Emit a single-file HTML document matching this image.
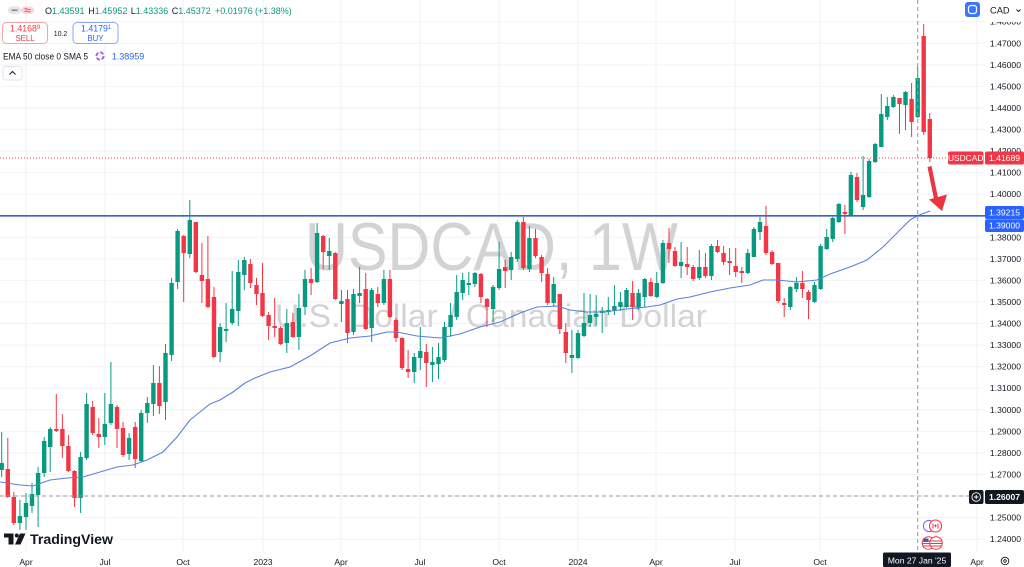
<!DOCTYPE html>
<html><head><meta charset="utf-8">
<style>
html,body{margin:0;padding:0;background:#fff;width:1024px;height:567px;overflow:hidden}
svg{display:block;font-family:"Liberation Sans",Arial,sans-serif}
</style></head>
<body>
<svg width="1024" height="567" viewBox="0 0 1024 567" xmlns="http://www.w3.org/2000/svg">
<rect width="1024" height="567" fill="#ffffff"/>
<!-- grid -->
<g stroke="#f0f2f5" stroke-width="1">
<path d="M0 21.7H985M0 43.3H985M0 64.9H985M0 86.4H985M0 108H985M0 129.5H985M0 151.1H985M0 172.6H985M0 194.2H985M0 215.8H985M0 237.3H985M0 258.9H985M0 280.4H985M0 302H985M0 323.6H985M0 345.1H985M0 366.7H985M0 388.2H985M0 409.8H985M0 431.4H985M0 452.9H985M0 474.5H985M0 496H985M0 517.6H985M0 539.2H985"/>
<path d="M26 0V552M105 0V552M183 0V552M263 0V552M341 0V552M420 0V552M499 0V552M578 0V552M656 0V552M735 0V552M820 0V552M977 0V552"/>
</g>
<!-- watermark -->
<text x="305" y="270" font-size="68" fill="#d3d3d5" textLength="373" lengthAdjust="spacingAndGlyphs">USDCAD, 1W</text>
<text x="275" y="327" font-size="32" fill="#d3d3d5" textLength="432" lengthAdjust="spacingAndGlyphs">U.S. Dollar / Canadian Dollar</text>

<!-- candles green -->
<g stroke="#089981" stroke-width="1" fill="none">
<path d="M1.7 432V477M19.9 500V530M26 493V530M32 483V513M38.1 467V527M44.2 437V477M50.2 427V472M80.6 452V513M86.6 393V460M104.8 393V445M110.9 362V425M129.1 433V460M141.2 410V462M147.3 397V423M153.4 365V416M165.5 344V420M171.6 278V361M177.6 229V289M189.8 200V258M220.1 323V362M226.1 303V342M232.2 271V325M238.3 260V326M244.3 257V290M286.8 309V353M298.9 294V350M305 270V315M317.1 223V283M329.3 238V270M341.4 290V322M353.5 289V335M359.6 267V303M371.7 288V342M383.9 270V305M414.2 353V383M420.3 327V370M432.4 347V382M438.5 343V379M444.5 322V362M450.6 303V337M456.7 275V320M462.7 273V300M468.8 272V295M474.9 272V287M493.1 285V322M499.1 242V290M511.2 252V280M517.3 220V262M529.4 226V272M553.7 277V307M571.9 330V373M578 330V359M584 293V337M590.1 294V327M596.2 295V326M602.2 307V333M608.3 297V315M614.4 285V315M620.4 292V311M626.5 288V308M638.6 289V310M644.7 278V307M656.8 272V298M662.9 240V284M681.1 242V278M699.3 250V280M711.4 244V280M747.8 249V274M753.9 227V257M760 217V240M790.3 286V310M796.4 277V292M814.5 282V303M820.6 244V290M826.7 229V250M832.7 217V242M838.8 203V223M850.9 172V216M863.1 156V210M869.1 159V198M875.2 143V163M881.3 94V147M887.3 97V120M893.4 95V108M905.5 91V130M917.7 67V118"/>
</g>
<path fill="#089981" d="M-0.5 463h4.4V470h-4.4zM17.7 516h4.4V523h-4.4zM23.8 503h4.4V517h-4.4zM29.8 494h4.4V506h-4.4zM35.9 473h4.4V495h-4.4zM42 441h4.4V473h-4.4zM48 429h4.4V447h-4.4zM78.4 457h4.4V498h-4.4zM84.4 404h4.4V458h-4.4zM102.6 424h4.4V437h-4.4zM108.7 404h4.4V423h-4.4zM126.9 438h4.4V454h-4.4zM139 413h4.4V461h-4.4zM145.1 403h4.4V413h-4.4zM151.2 383h4.4V404h-4.4zM163.3 353h4.4V402h-4.4zM169.4 283h4.4V355h-4.4zM175.4 231h4.4V282h-4.4zM187.6 220h4.4V254h-4.4zM217.9 327h4.4V352h-4.4zM223.9 329h4.4V331h-4.4zM230 309h4.4V323h-4.4zM236.1 272h4.4V311h-4.4zM242.1 260h4.4V275h-4.4zM284.6 323h4.4V343h-4.4zM296.7 308h4.4V337h-4.4zM302.8 279h4.4V307h-4.4zM314.9 233h4.4V282h-4.4zM327.1 251h4.4V256h-4.4zM339.2 301h4.4V304h-4.4zM351.3 294h4.4V332h-4.4zM357.4 293h4.4V296h-4.4zM369.5 290h4.4V328h-4.4zM381.7 279h4.4V303h-4.4zM412 357h4.4V372h-4.4zM418.1 351h4.4V358h-4.4zM430.2 362h4.4V365h-4.4zM436.3 357h4.4V364h-4.4zM442.3 327h4.4V360h-4.4zM448.4 315h4.4V327h-4.4zM454.5 292h4.4V317h-4.4zM460.5 280h4.4V293h-4.4zM466.6 283h4.4V285h-4.4zM472.7 273h4.4V284h-4.4zM490.9 287h4.4V309h-4.4zM496.9 269h4.4V288h-4.4zM509 257h4.4V270h-4.4zM515.1 222h4.4V259h-4.4zM527.2 238h4.4V269h-4.4zM551.5 284h4.4V303h-4.4zM569.7 355h4.4V358h-4.4zM575.8 333h4.4V358h-4.4zM581.8 323h4.4V336h-4.4zM587.9 315h4.4V323h-4.4zM594 314h4.4V317h-4.4zM600 311h4.4V313h-4.4zM606.1 310h4.4V312h-4.4zM612.2 306h4.4V311h-4.4zM618.2 302h4.4V307h-4.4zM624.3 290h4.4V307h-4.4zM636.4 293h4.4V308h-4.4zM642.5 279h4.4V297h-4.4zM654.6 283h4.4V297h-4.4zM660.7 243h4.4V283h-4.4zM678.9 262h4.4V266h-4.4zM697.1 267h4.4V278h-4.4zM709.2 246h4.4V276h-4.4zM745.6 253h4.4V273h-4.4zM751.7 229h4.4V257h-4.4zM757.8 222h4.4V232h-4.4zM788.1 287h4.4V307h-4.4zM794.2 283h4.4V289h-4.4zM812.3 285h4.4V302h-4.4zM818.4 246h4.4V289h-4.4zM824.5 237h4.4V249h-4.4zM830.5 218h4.4V239h-4.4zM836.6 204h4.4V222h-4.4zM848.7 175h4.4V215h-4.4zM860.9 195h4.4V207h-4.4zM866.9 161h4.4V197h-4.4zM873 144h4.4V162h-4.4zM879.1 114h4.4V147h-4.4zM885.1 106h4.4V117h-4.4zM891.2 97h4.4V107h-4.4zM903.3 92h4.4V105h-4.4zM915.5 78h4.4V117h-4.4z"/>

<!-- candles red -->
<g stroke="#f23645" stroke-width="1" fill="none">
<path d="M7.8 438V498M13.8 492V525M56.3 394V432M62.4 414V458M68.4 435V472M74.5 470V507M92.7 401V435M98.8 418V448M117 405V448M123 422V457M135.2 422V468M159.4 366V414M183.7 235V302M195.8 222V273M201.9 243V303M207.9 236V308M214 287V358M250.4 259V288M256.5 278V305M262.5 263V317M268.6 312V340M274.7 298V337M280.7 326V345M292.9 313V338M311.1 268V295M323.2 235V269M335.3 252V300M347.5 290V343M365.7 273V330M377.8 287V307M389.9 270V318M396 318V342M402.1 337V370M408.1 350V378M426.3 344V387M480.9 273V303M487 298V327M505.2 260V288M523.4 217V270M535.5 229V258M541.6 255V282M547.6 268V305M559.8 294V334M565.8 323V363M632.6 281V320M650.8 278V297M669 228V263M675 247V267M687.2 247V275M693.2 265V281M705.4 253V278M717.5 240V253M723.6 246V265M729.6 248V275M735.7 248V277M741.8 267V283M766 206V255M772.1 250V265M778.2 263V303M784.2 298V317M802.4 271V298M808.5 290V319M844.9 205V234M857 173V202M899.5 98V134M911.6 83V137M923.7 24V135M929.8 113V162"/>
</g>
<path fill="#f23645" d="M5.6 469h4.4V497h-4.4zM11.6 497h4.4V523h-4.4zM54.1 429h4.4V431h-4.4zM60.2 429h4.4V446h-4.4zM66.2 446h4.4V471h-4.4zM72.3 471h4.4V498h-4.4zM90.5 407h4.4V433h-4.4zM96.6 434h4.4V437h-4.4zM114.8 407h4.4V429h-4.4zM120.8 428h4.4V455h-4.4zM133 427h4.4V459h-4.4zM157.2 383h4.4V406h-4.4zM181.5 236h4.4V253h-4.4zM193.6 222h4.4V272h-4.4zM199.7 275h4.4V281h-4.4zM205.7 279h4.4V307h-4.4zM211.8 297h4.4V357h-4.4zM248.2 264h4.4V283h-4.4zM254.3 285h4.4V294h-4.4zM260.3 293h4.4V316h-4.4zM266.4 315h4.4V326h-4.4zM272.5 326h4.4V328h-4.4zM278.5 328h4.4V344h-4.4zM290.7 322h4.4V337h-4.4zM308.9 279h4.4V283h-4.4zM321 236h4.4V252h-4.4zM333.1 253h4.4V299h-4.4zM345.3 299h4.4V333h-4.4zM363.5 289h4.4V329h-4.4zM375.6 294h4.4V303h-4.4zM387.7 279h4.4V317h-4.4zM393.8 320h4.4V338h-4.4zM399.9 338h4.4V368h-4.4zM405.9 369h4.4V372h-4.4zM424.1 352h4.4V363h-4.4zM478.7 274h4.4V297h-4.4zM484.8 299h4.4V307h-4.4zM503 267h4.4V271h-4.4zM521.2 222h4.4V268h-4.4zM533.3 238h4.4V256h-4.4zM539.4 257h4.4V273h-4.4zM545.4 274h4.4V303h-4.4zM557.6 294h4.4V329h-4.4zM563.6 332h4.4V353h-4.4zM630.4 293h4.4V307h-4.4zM648.6 282h4.4V296h-4.4zM666.8 243h4.4V249h-4.4zM672.8 251h4.4V266h-4.4zM685 264h4.4V267h-4.4zM691 267h4.4V279h-4.4zM703.2 267h4.4V276h-4.4zM715.3 246h4.4V252h-4.4zM721.4 253h4.4V262h-4.4zM727.4 261h4.4V263h-4.4zM733.5 266h4.4V272h-4.4zM739.6 271h4.4V273h-4.4zM763.8 226h4.4V253h-4.4zM769.9 252h4.4V264h-4.4zM776 263h4.4V301h-4.4zM782 303h4.4V305h-4.4zM800.2 283h4.4V289h-4.4zM806.3 292h4.4V300h-4.4zM842.7 212h4.4V214h-4.4zM854.8 177h4.4V200h-4.4zM897.3 98h4.4V104h-4.4zM909.4 99h4.4V122h-4.4zM921.5 36h4.4V132h-4.4zM927.6 119h4.4V158h-4.4z"/>

<!-- EMA -->
<polyline fill="none" stroke="#5a80dd" stroke-width="1.1" points="0,482 20,485 33,486 50,480 67,478 83,477 100,472 117,467 133,465 147,460 163,452 177,437 190,420 200,412 210,404 220,400 233,392 245,383 255,378 270,372 290,367 310,356 330,343 350,338 370,336 387,332 397,332 417,336 440,338 460,334 480,327 500,322 520,313 537,307 557,306 570,310 587,312 603,312 627,309 647,307 660,305 677,299 690,297 710,292 730,288 750,285 763,280 777,280 797,282 817,280 830,274 850,267 867,260 883,247 897,233 910,220 918,215.5 930,211"/>

<!-- horizontal blue line -->
<line x1="0" y1="215.8" x2="985" y2="215.8" stroke="#3862c8" stroke-width="1.6"/>
<!-- price line -->
<line x1="0" y1="158" x2="948" y2="158" stroke="#f23645" stroke-width="1" stroke-dasharray="1 2"/>
<!-- crosshair -->
<line x1="917.7" y1="0" x2="917.7" y2="552" stroke="#9598a1" stroke-width="1" stroke-dasharray="4 3"/>
<line x1="0" y1="496" x2="969" y2="496" stroke="#9598a1" stroke-width="1" stroke-dasharray="4 3"/>

<!-- red arrow -->
<polygon fill="#ef3340" points="927.5,167 931.5,166 938,198 934,199"/>
<polygon fill="#ef3340" points="929,199.5 947,194.5 942,211"/>

<!-- price axis labels -->
<g font-size="8.6" fill="#131722" text-anchor="end">
<text x="1021" y="24.7">1.48000</text>
<text x="1021" y="46.3">1.47000</text>
<text x="1021" y="67.9">1.46000</text>
<text x="1021" y="89.4">1.45000</text>
<text x="1021" y="111">1.44000</text>
<text x="1021" y="132.5">1.43000</text>
<text x="1021" y="154.1">1.42000</text>
<text x="1021" y="175.6">1.41000</text>
<text x="1021" y="197.2">1.40000</text>
<text x="1021" y="240.3">1.38000</text>
<text x="1021" y="261.9">1.37000</text>
<text x="1021" y="283.4">1.36000</text>
<text x="1021" y="305">1.35000</text>
<text x="1021" y="326.6">1.34000</text>
<text x="1021" y="348.1">1.33000</text>
<text x="1021" y="369.7">1.32000</text>
<text x="1021" y="391.2">1.31000</text>
<text x="1021" y="412.8">1.30000</text>
<text x="1021" y="434.4">1.29000</text>
<text x="1021" y="455.9">1.28000</text>
<text x="1021" y="477.5">1.27000</text>
<text x="1021" y="520.6">1.25000</text>
<text x="1021" y="542.2">1.24000</text>
</g>

<!-- price labels -->
<rect x="948" y="151.5" width="35.5" height="13" rx="2" fill="#f23645"/>
<text x="965.7" y="161.2" font-size="8.4" fill="#fff" text-anchor="middle">USDCAD</text>
<rect x="985" y="151.5" width="39" height="13" rx="2" fill="#f23645"/>
<text x="1004.5" y="161.2" font-size="8.6" fill="#fff" text-anchor="middle">1.41689</text>

<rect x="985" y="206" width="39" height="13" rx="2" fill="#2962ff"/>
<text x="1004.5" y="215.6" font-size="8.6" fill="#fff" text-anchor="middle">1.39215</text>
<rect x="985" y="219.3" width="39" height="12.7" rx="2" fill="#2962ff"/>
<text x="1004.5" y="228.7" font-size="8.6" fill="#fff" text-anchor="middle">1.39000</text>

<rect x="969" y="490" width="14.5" height="14" rx="2" fill="#131722"/>
<circle cx="976.2" cy="497" r="4.3" fill="none" stroke="#fff" stroke-width="0.9"/>
<path d="M976.2 494.8V499.2M974 497H978.4" stroke="#fff" stroke-width="0.9"/>
<rect x="985" y="490" width="39" height="14" rx="2" fill="#131722"/>
<text x="1004.5" y="500" font-size="8.6" fill="#fff" text-anchor="middle" font-weight="bold">1.26007</text>

<!-- top right -->
<rect x="984" y="0" width="40" height="22" fill="#fff"/>
<rect x="965" y="2" width="15" height="15" rx="3" fill="#3f76f5"/>
<rect x="968.5" y="5.5" width="8" height="8" rx="2.5" fill="none" stroke="#fff" stroke-width="1.2"/>
<text x="990" y="13.5" font-size="9.3" fill="#131722">CAD</text>
<path d="M1016.5 9.5l2 2 2-2" fill="none" stroke="#131722" stroke-width="0.9"/>

<!-- time axis -->
<g font-size="8.6" fill="#131722" text-anchor="middle">
<text x="26" y="565">Apr</text>
<text x="105" y="565">Jul</text>
<text x="183" y="565">Oct</text>
<text x="263" y="565">2023</text>
<text x="341" y="565">Apr</text>
<text x="420" y="565">Jul</text>
<text x="499" y="565">Oct</text>
<text x="578" y="565">2024</text>
<text x="656" y="565">Apr</text>
<text x="735" y="565">Jul</text>
<text x="820" y="565">Oct</text>
<text x="977" y="565">Apr</text>
</g>
<rect x="883" y="552.5" width="68" height="14.5" rx="1.5" fill="#131722"/>
<text x="917" y="563.5" font-size="8.6" fill="#fff" text-anchor="middle">Mon 27 Jan '25</text>
<circle cx="1005" cy="561" r="3.8" fill="none" stroke="#131722" stroke-width="0.9"/>
<circle cx="1005" cy="561" r="1.3" fill="none" stroke="#131722" stroke-width="0.8"/>

<!-- event flags -->
<circle cx="929" cy="526" r="5.6" fill="#fff" stroke="#9c5ff0" stroke-width="1.1"/>
<circle cx="935.5" cy="526" r="6" fill="#fff" stroke="#f23645" stroke-width="1.1"/>
<path d="M933 523.5v5M938 523.5v5" stroke="#f23645" stroke-width="1"/>
<path d="M935.5 524l1.2 1.8-1.2 1.8-1.2-1.8z" fill="#f23645"/>
<circle cx="928.5" cy="543" r="6.3" fill="#fff" stroke="#f23645" stroke-width="1"/>
<path d="M923 541h11M922.5 543.5h12M923 546h11" stroke="#f23645" stroke-width="1"/>
<rect x="923.5" y="538.5" width="5" height="3.5" fill="#3d5ab8"/>
<circle cx="936" cy="543" r="6.3" fill="#fff" stroke="#f23645" stroke-width="1"/>
<path d="M930.5 541h11M930 543.5h12M930.5 546h11" stroke="#f23645" stroke-width="1"/>

<!-- TradingView logo -->
<rect x="4" y="533.5" width="9.5" height="4" fill="#131722"/>
<rect x="8.5" y="533.5" width="5" height="11" fill="#131722"/>
<circle cx="16.8" cy="535.5" r="2" fill="#131722"/>
<polygon points="20,533.5 25.5,533.5 20.5,544.5 15,544.5" fill="#131722"/>
<text x="30" y="544" font-size="14" font-weight="bold" fill="#131722" textLength="83" lengthAdjust="spacingAndGlyphs">TradingView</text>

<!-- top-left legend -->
<rect x="8" y="6.5" width="13" height="7.5" rx="3.7" fill="#e4e5e9"/>
<line x1="11.5" y1="10.2" x2="17.5" y2="10.2" stroke="#6a6d78" stroke-width="1.2"/>
<rect x="21" y="6.5" width="13" height="7.5" rx="3.7" fill="#fbd5d9"/>
<path d="M24.5 9.2q1.5-1 3 0t3 0M24.5 11.5q1.5-1 3 0t3 0" fill="none" stroke="#f23645" stroke-width="0.8"/>
<text y="14" font-size="9"><tspan x="45" fill="#131722">O</tspan><tspan fill="#089981">1.43591</tspan><tspan x="88.3" fill="#131722">H</tspan><tspan fill="#089981">1.45952</tspan><tspan x="130.7" fill="#131722">L</tspan><tspan fill="#089981">1.43336</tspan><tspan x="171.7" fill="#131722">C</tspan><tspan fill="#089981">1.45372</tspan><tspan x="215" fill="#089981">+0.01976</tspan><tspan x="255" fill="#089981">(+1.38%)</tspan></text>

<rect x="2.5" y="22.5" width="45" height="21" rx="4" fill="#fff" stroke="#f3a3ab" stroke-width="1"/>
<text x="10" y="31.5" font-size="8.8" fill="#f23645">1.4168<tspan font-size="6" dy="-2.5">9</tspan></text>
<text x="25" y="41" font-size="7.8" fill="#f23645" text-anchor="middle">SELL</text>
<text x="60.5" y="36" font-size="7" fill="#131722" text-anchor="middle">10.2</text>
<rect x="73" y="22.5" width="45" height="21" rx="4" fill="#fff" stroke="#8aa8f5" stroke-width="1"/>
<text x="81" y="31.5" font-size="8.8" fill="#2962ff">1.4179<tspan font-size="6" dy="-2.5">1</tspan></text>
<text x="95.5" y="41" font-size="7.8" fill="#2962ff" text-anchor="middle">BUY</text>

<text x="3" y="59.5" font-size="9" fill="#131722" textLength="85" lengthAdjust="spacingAndGlyphs">EMA 50 close 0 SMA 5</text>
<circle cx="100" cy="56" r="3.6" fill="none" stroke="#9c5ff0" stroke-width="1.8" stroke-dasharray="4 1.6"/>
<text x="111.7" y="59.5" font-size="9" fill="#2962ff">1.38959</text>

<rect x="3" y="66.5" width="19" height="13.5" rx="2.5" fill="#fff" stroke="#e0e3eb" stroke-width="1"/>
<path d="M9.5 74.5l3-3 3 3" fill="none" stroke="#131722" stroke-width="1"/>
</svg>
</body></html>
